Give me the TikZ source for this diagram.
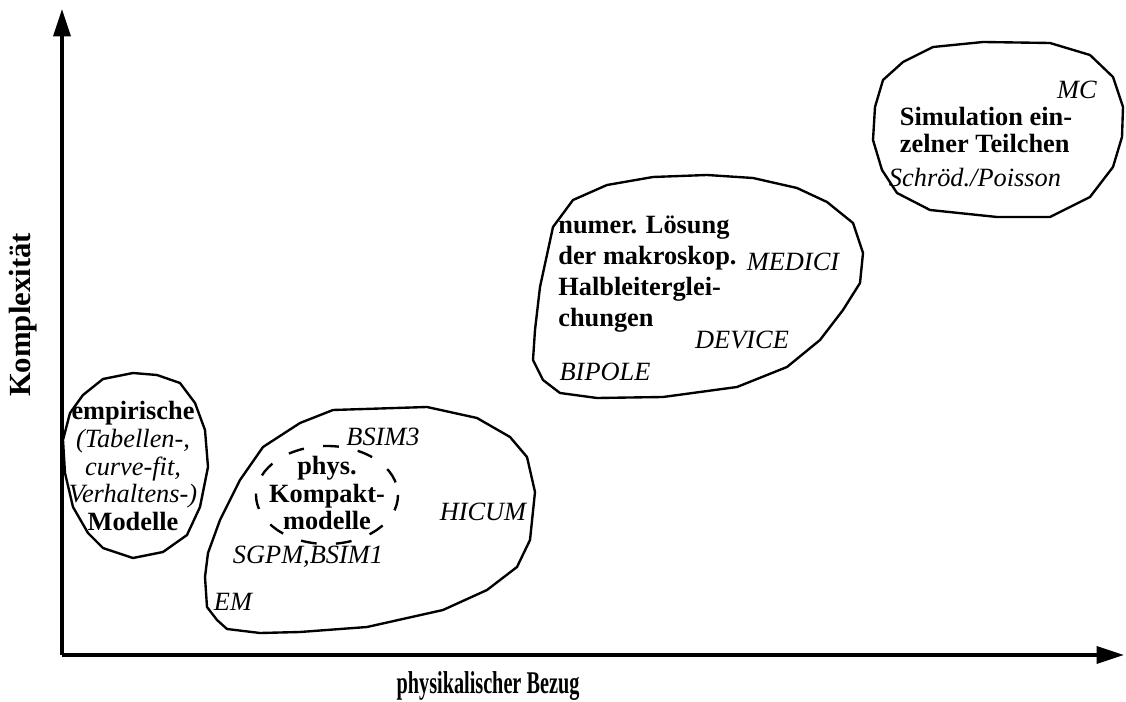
\documentclass[tikz,border=0pt]{standalone}
\usepackage{fontspec}
\setmainfont{Liberation Serif}
\newfontfamily\narrowbf[FakeStretch=0.64]{Liberation Serif Bold}
\usepackage{tikz}
\usetikzlibrary{arrows.meta,positioning}

\begin{document}
\begin{tikzpicture}[
  x=0.02cm, y=-0.02cm,
  font=\fontsize{15}{15.8}\selectfont,
  axis/.style={line width=2.1pt, -{Triangle[length=0.55cm, width=0.34cm]}},
  blob/.style={draw, line width=1.35pt, line join=round},
  dashblob/.style={draw, line width=1.35pt, dash pattern=on 9pt off 11pt},
  lbl/.style={inner sep=0pt, align=center},
  prog/.style={inner sep=0pt, font=\fontsize{15}{15.8}\selectfont\itshape},
]
\useasboundingbox (0,0) rectangle (1126,702);
% axes
\coordinate (o) at (62,655);
\coordinate (ytop) at (62,9);
\coordinate (xend) at (1124,655);
\draw[axis] (o) -- (ytop);
\draw[axis] (o) -- (xend);
\node[inner sep=0pt, rotate=90, font=\fontsize{17.5}{18}\selectfont\bfseries] (ylab) at (23,315) {Komplexität};
\node[inner sep=0pt, font=\fontsize{18}{18}\narrowbf] (xlab) at (488,686) {physikalischer Bezug};
% empirische Modelle
\draw[blob] plot coordinates {(133,373) (103,379) (83,395) (70,413) (63,440) (65,473) (73,507) (88,533)
  (103,548) (133,558) (163,552) (187,535) (200,507) (208,467) (205,430) (195,403) (180,383) (157,375)} -- cycle;
\node[lbl] (emp) at (133,466) {\textbf{empirische}\\\textit{(Tabellen-,}\\\textit{curve-fit,}\\\textit{Verhaltens-)}\\\textbf{Modelle}};
% Kompaktmodelle
\draw[blob] plot coordinates {(207,607) (205,577) (208,553) (220,520) (240,480) (263,447) (300,423) (333,410)
  (427,407) (477,418) (510,437) (527,457) (535,492) (530,540) (517,567) (487,590) (443,610) (367,627)
  (300,632) (260,633) (227,629) (217,620)} -- cycle;
\draw[dashblob] (327,495) ellipse [x radius=71, y radius=49];
\node[lbl, font=\fontsize{15}{15.6}\selectfont\bfseries] (phys) at (327,493) {phys.\\Kompakt-\\modelle};
\node[prog] (bsim3) at (383,437) {BSIM3};
\node[prog] (sgpm) at (308,557) {SGPM,BSIM1};
\node[prog] (hicum) at (483,512) {HICUM};
\node[prog] (em) at (233,602) {EM};
% numerische Loesung
\draw[blob] plot coordinates {(533,360) (535,330) (540,287) (553,227) (573,200) (607,185) (653,177) (707,175)
  (753,178) (797,188) (827,202) (853,223) (863,253) (860,283) (843,310) (820,340) (787,367) (737,387)
  (663,397) (597,398) (560,393) (543,380)} -- cycle;
\node[lbl, align=left, anchor=west, font=\fontsize{15}{17.6}\selectfont\bfseries] (num) at (558,274)
  {numer. Lösung\\der makroskop.\\Halbleiterglei-\\chungen};
\node[prog] (medici) at (793,262) {MEDICI};
\node[prog] (device) at (742,340) {DEVICE};
\node[prog] (bipole) at (605,372) {BIPOLE};
% einzelne Teilchen
\draw[blob] plot coordinates {(883,80) (903,62) (933,47) (983,42) (1050,43) (1090,55) (1113,77) (1123,107)
  (1122,137) (1113,167) (1090,197) (1050,217) (997,217) (930,210) (897,193) (882,170) (873,140) (875,107)} -- cycle;
\node[prog] (mc) at (1077,90) {MC};
\node[lbl, align=left, font=\fontsize{15}{15}\selectfont\bfseries] (sim) at (986,130) {Simulation ein-\\zelner Teilchen};
\node[prog] (schroed) at (975,178) {Schröd./Poisson};
\end{tikzpicture}
\end{document}
